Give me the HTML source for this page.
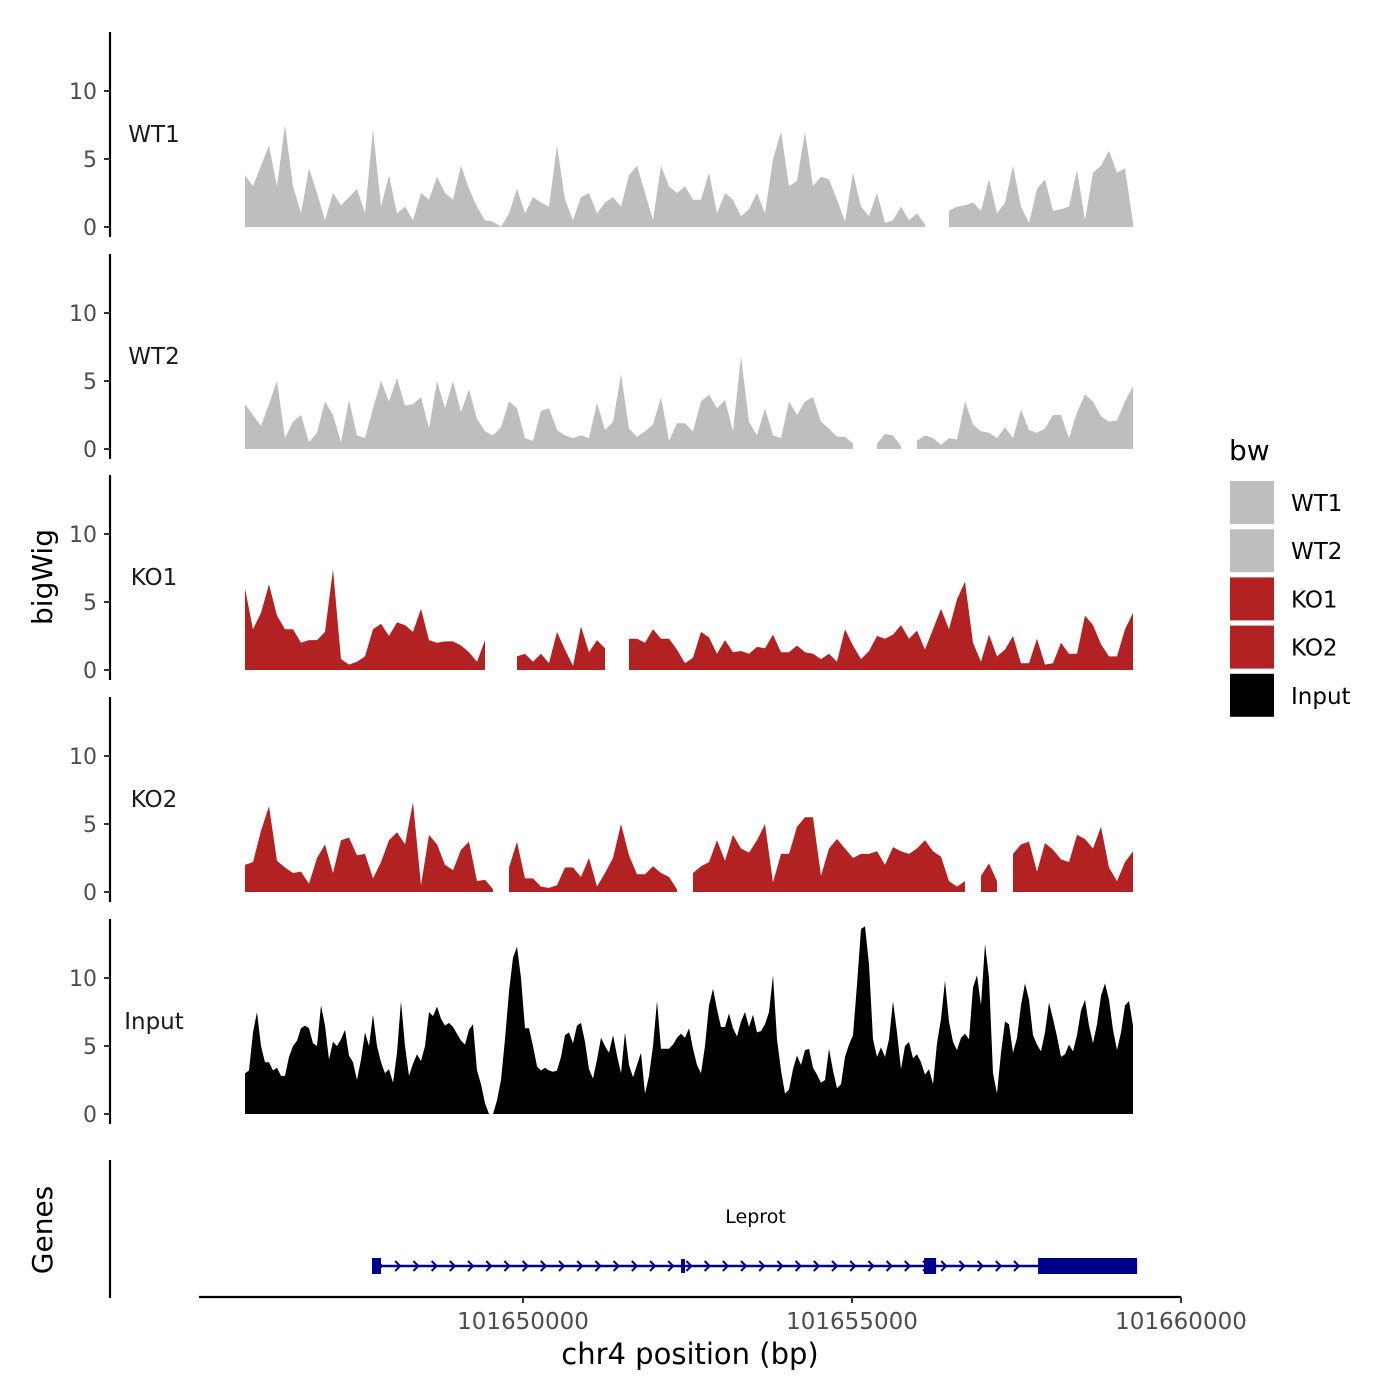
<!DOCTYPE html>
<html><head><meta charset="utf-8"><style>
html,body{margin:0;padding:0;background:#fff}
svg{display:block;font-family:"DejaVu Sans","Liberation Sans",sans-serif}
</style></head><body>
<svg id="chart" width="1400" height="1400" viewBox="0 0 1400 1400" xmlns="http://www.w3.org/2000/svg"></svg>
<script>
const trackNames = ["WT1","WT2","KO1","KO2","Input"];
const trackColors = ["#bebebe","#bebebe","#b22222","#b22222","#000000"];
const yTicks = [0,5,10];
const xTicks = [101650000,101655000,101660000];
const xTickLabels = ["101650000","101655000","101660000"];
const regionStart = 101645775;
const regionEnd = 101659270;
const wt1 = [3.8,3,4.5,6,3,7.5,3,1,4.3,2.5,0.5,2.5,1.6,2.2,2.8,1,7.2,1.5,3.8,1,1.5,0.5,2.5,2,3.7,2.5,2,4.5,2.8,1.5,0.5,0.4,0,1,2.8,1,2.2,1.8,1.5,6,2,0.5,2.2,2.5,1,1.8,2.2,1.5,3.8,4.5,2.5,0.5,4.5,3,2.5,3,2,2,4,1,2.5,2,0.8,1.3,2.5,1,5,7,3,3.4,7,3,3.7,3.5,2,0.4,4,1.5,0.8,2.5,0.3,0.5,1.5,0.5,1,0.2,null,null,1.2,1.5,1.6,1.8,1.2,3.5,1,1.8,4.5,1.5,0.3,2.8,3.5,1.2,1.3,1.5,4.2,0.5,4,4.5,5.6,4,4.3,0.3];
const wt2 = [3.3,2.5,1.7,3.3,5,0.8,2,2.5,0.5,1.2,3.5,2.5,0.5,3.6,1,0.8,3,5,3.5,5.2,3.2,3.3,3.8,1.5,5,3,5,2.7,4.4,2.2,1.3,1,1.6,3.5,3,0.8,0.6,2.8,3,1.4,1,0.8,1,0.8,3.4,1.4,2,5.5,1.5,0.9,1.3,1.8,3.8,0.6,1.9,1.9,1.3,3.5,4,3,3.6,1.3,6.8,2,1,3,1,0.8,3.5,2.5,3.5,3.8,2,1.5,0.9,0.9,0.4,null,null,0.4,1.1,1,0.2,null,0.6,1,0.8,0.3,0.8,0.7,3.5,1.8,1.3,1.2,0.8,1.6,0.8,2.9,1.4,1.2,1.5,2.5,2.5,0.8,2.7,4,3.5,2.4,2,2.1,3.5,4.6];
const ko1 = [6,3,4.2,6.3,4,3,3,2,2.2,2.2,2.8,7.4,0.8,0.4,0.6,1,3,3.4,2.5,3.5,3.3,2.8,4.5,2.2,2,2.1,2.1,1.8,1.3,0.6,2.2,null,null,null,1,1.2,0.6,1.2,0.5,2.8,1.5,0.3,3.2,1.3,2.2,1.6,null,null,2.3,2.3,2,3,2.3,2.3,1.5,0.5,0.9,2.8,2.4,1.2,2.2,1.3,1.4,1.2,1.7,1.6,2.6,1.3,1.3,1.8,1.3,1.2,0.8,1.2,0.6,3,1.8,0.8,1.4,2.5,2.3,2.6,3.3,2.3,2.9,1.5,3,4.5,3,5.2,6.5,2,0.6,2.6,1,1.5,2.5,0.5,0.5,2.3,0.4,0.5,2,1.2,1.2,4,3.3,1.9,1,1,3,4.2];
const ko2 = [2,2.2,4.5,6.3,2.3,1.8,1.4,1.5,0.6,2.5,3.5,1.4,3.8,4,2.7,2.8,1,2.2,3.8,4.4,3.5,6.6,0.5,4.2,3.5,2,1.6,3.1,3.7,0.8,0.9,0.2,null,1.8,3.7,1,1,0.4,0.3,0.5,1.8,1.8,1.1,2.5,0.4,1.4,2.5,5,2.7,1.3,1.3,1.9,1.4,1.1,0.2,null,1.4,1.9,2.2,3.8,2.3,4.2,3.2,2.9,3.8,5,0.7,2.8,2.8,4.8,5.5,5.5,1.2,3.2,3.9,3.2,2.5,2.8,2.8,3,2,3.3,3,2.8,3.2,3.8,3,2.6,0.8,0.4,0.8,null,1.2,2.1,0.8,null,2.8,3.5,3.7,1.5,3.6,3.1,2.4,2.2,4.2,3.9,3.2,4.8,1.8,0.8,2.2,3];
const input = [3,3.2,6,7.5,5,3.8,3.8,3.2,3.4,2.8,2.8,4.2,5,5.4,6.3,6.5,6.3,5.2,5,8,6.5,4,5.3,5,5.5,6.2,4.3,3.8,2.5,4,6,5,7.3,5,3.8,3,3.3,2.3,4.5,8.3,5,2.8,3.7,4.4,3.9,5,7.5,7.2,7.9,7,6.5,6.7,6.4,5.9,5.4,5.1,6.2,6.6,3.2,2.2,0.8,0,0,1,2.5,5.5,9,11.5,12.3,10,6.3,6.3,5,3.5,3.2,3.4,3.2,3.1,3.2,4.2,5.8,6,5.2,6.5,6.7,5.3,3.3,2.6,4,5.6,5,4.5,5.8,4.3,3,6,3.6,2.7,3.6,4.5,1.5,2.8,5,8.3,4.8,4.8,4.8,5.1,5.6,5.9,5.6,6.3,4.8,3.6,3,5,8,9.2,7.7,6.4,6.4,7.4,6.3,5.7,6.8,7.5,6.4,7.3,6,6.1,6.6,7.5,10.2,5.5,3.2,1.5,1.8,3.3,4.3,3.6,4.7,4.8,3.4,2.9,2.3,2.5,4.8,3.2,1.9,2.2,4.2,5.1,5.8,9.5,13.6,13.8,11,5.5,4.2,4.9,4.2,5.5,8.3,6,3.3,5,5.3,4.1,4.4,3.8,2.9,3.3,2.2,5.2,7,9.8,6.8,5.3,4.7,5.6,5.9,5.5,9.3,10.2,8,12.5,10,3,1.5,4.5,6.8,6.6,4.5,5.6,8,9.6,8.4,5.8,5.1,4.6,6,8.2,7,5.7,4.2,4.4,5.1,4.6,5.8,7.6,8.4,6.5,5.2,6.6,8.7,9.6,8.4,6.2,4.7,6,8,8.3,6.5];
const trackData = [wt1,wt2,ko1,ko2,input];
const geneName = "Leprot";
const geneStart = 101647705;
const geneEnd = 101659333;
const exonStarts = [101647705,101652402,101656095,101657828];
const exonEnds = [101647842,101652462,101656278,101659333];
const exonThick = [1,0,1,1];

const svg = document.getElementById('chart');
const NS = "http://www.w3.org/2000/svg";
function mk(tag, attrs, parent){const e=document.createElementNS(NS,tag);for(const k in attrs)e.setAttribute(k,attrs[k]);(parent||svg).appendChild(e);return e;}
const xScale = bp => 523 + (bp - 101650000) * (329/5000);
const trackBase = [227,449,670,892,1114];
const yUnit = 13.6;
const yScale = (t,v) => trackBase[t] - v*yUnit;

trackNames.forEach((name,t)=>{
  const g = mk('g',{});
  
  
  const data = trackData[t];
  const n = data.length;
  const pos = i => regionStart + (regionEnd-regionStart)*i/(n-1);
  let seg = [];
  const flush = () => {
    if(seg.length){
      let d = 'M'+xScale(pos(seg[0])).toFixed(1)+','+trackBase[t];
      seg.forEach(i=>{d+=' L'+xScale(pos(i)).toFixed(1)+','+yScale(t,data[i]).toFixed(1);});
      d+=' L'+xScale(pos(seg[seg.length-1])).toFixed(1)+','+trackBase[t]+' Z';
      const p = mk('path',{d:d,fill:trackColors[t]},g);
      
      
    }
    seg=[];
  };
  data.forEach((v,i)=>{ if(v===null) flush(); else seg.push(i); });
  flush();
  const top = trackBase[t]-195, bot = trackBase[t]+10;
  const ax = mk('line',{x1:110,x2:110,y1:top,y2:bot,stroke:'#000','stroke-width':2.2});
  
  
  yTicks.forEach(v=>{
    const y = yScale(t,v);
    mk('line',{x1:104,x2:110,y1:y,y2:y,stroke:'#333','stroke-width':2});
    const tx = mk('text',{x:97,y:y+8,'text-anchor':'end','font-size':22,fill:'#4d4d4d'});
    tx.textContent = v;
    
    
  });
  const lb = mk('text',{x:154,y:trackBase[t]-85,'text-anchor':'middle','font-size':23,fill:'#1a1a1a'});
  lb.textContent = name;
  
  
});

const yt = mk('text',{x:0,y:0,transform:'translate(52,577) rotate(-90)','text-anchor':'middle','font-size':28});
yt.textContent='bigWig';



const ga = mk('line',{x1:110,x2:110,y1:1160,y2:1298,stroke:'#000','stroke-width':2.2});


const gt = mk('text',{x:0,y:0,transform:'translate(52,1230) rotate(-90)','text-anchor':'middle','font-size':28});
gt.textContent='Genes';


const gg = mk('g',{});


const gx1 = xScale(geneStart), gx2 = xScale(geneEnd);
mk('line',{x1:gx1,x2:gx2,y1:1266,y2:1266,stroke:'#00008b','stroke-width':2.5},gg);
for(let x=gx1+8;x<xScale(exonStarts[3])-4;x+=18.2){
  mk('path',{d:`M${x-3},1261 L${x+2},1266 L${x-3},1271`,fill:'none',stroke:'#00008b','stroke-width':2},gg);
}
exonStarts.forEach((s,i)=>{
  const x1=xScale(s), x2=xScale(exonEnds[i]);
  const h = exonThick[i]?16:14;
  const r = mk('rect',{x:x1,y:1266-h/2,width:Math.max(3,x2-x1),height:h,fill:'#00008b'},gg);
  
  
});
const gn = mk('text',{x:(gx1+gx2)/2+1,y:1223,'text-anchor':'middle','font-size':19,fill:'#000'},gg);
gn.textContent = geneName;



const xa = mk('line',{x1:199,x2:1181,y1:1297,y2:1297,stroke:'#000','stroke-width':2.2});


xTicks.forEach((v,i)=>{
  const x = xScale(v);
  mk('line',{x1:x,x2:x,y1:1297,y2:1303,stroke:'#333','stroke-width':2});
  const tx = mk('text',{x:x,y:1329,'text-anchor':'middle','font-size':23,fill:'#4d4d4d'});
  tx.textContent = xTickLabels[i];
  
  
});
const xt = mk('text',{x:690,y:1364,'text-anchor':'middle','font-size':29});
xt.textContent='chr4 position (bp)';



const lg = mk('g',{});


const lt = mk('text',{x:1229,y:460,'font-size':28},lg);
lt.textContent='bw';


trackNames.forEach((name,i)=>{
  const y = 481 + i*48.2;
  const r = mk('rect',{x:1230,y:y,width:44,height:43,fill:trackColors[i]},lg);
  
  
  const t = mk('text',{x:1291,y:y+30,'font-size':23},lg);
  t.textContent=name;
  
  
});
</script>
</body></html>
